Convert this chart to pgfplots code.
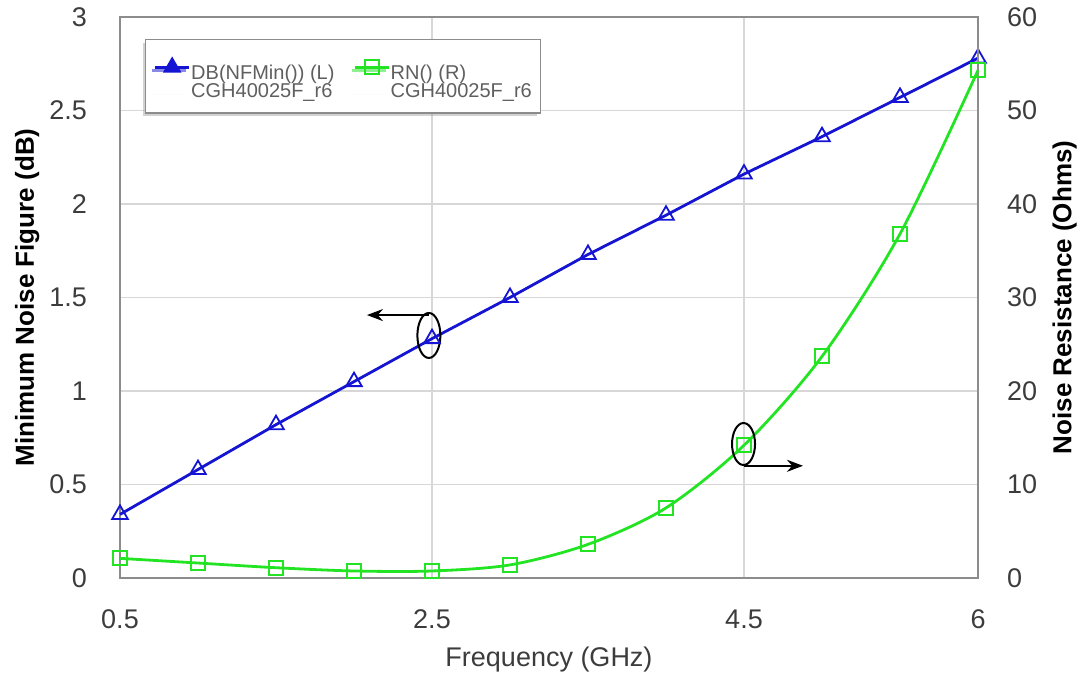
\documentclass[border=0pt]{standalone}
\usepackage{pgfplots}
\pgfplotsset{compat=1.18}
\usepackage{fontspec}
\setmainfont{Liberation Sans}
\usetikzlibrary{shadows,arrows.meta}
\definecolor{nfblue}{RGB}{20,20,210}
\definecolor{rngreen}{RGB}{35,228,35}
\definecolor{framegray}{RGB}{140,140,140}
\definecolor{gridgray}{RGB}{215,215,215}
\definecolor{txtgray}{RGB}{60,60,60}
\definecolor{leggray}{RGB}{95,95,95}

\pgfplotstableread{
f nf
0.5 0.34
1.0 0.58
1.5 0.82
2.0 1.05
2.5 1.28
3.0 1.50
3.5 1.73
4.0 1.94
4.5 2.16
5.0 2.36
5.5 2.57
6.0 2.78
}\nftable

\pgfplotstableread{
f rn
0.5 2.1
1.0 1.6
1.5 1.1
2.0 0.75
2.5 0.75
3.0 1.4
3.5 3.6
4.0 7.5
4.5 14.2
5.0 23.7
5.5 36.8
6.0 54.3
}\rntable

\pgfplotsset{
 common/.style={
  scale only axis, width=429pt, height=280.5pt,
  xmin=0.5, xmax=6,
  xtick={0.5,2.5,4.5,6},
  major tick length=0pt,
  axis line style={framegray, line width=1pt},
  tick label style={font=\fontsize{13.5}{13.5}\selectfont, text=txtgray},
  /pgf/number format/assume math mode=true,
  clip=false,
 }
}

\begin{document}
\begin{tikzpicture}
\useasboundingbox (-60pt,-50pt) rectangle (480.5pt,289pt);
\begin{axis}[common,
  ymin=0, ymax=3, ytick={0,0.5,...,3},
  xmajorgrids, ymajorgrids,
  grid style={gridgray, line width=0.6pt},
  yticklabel style={anchor=east, xshift=-13pt},
  xticklabel style={anchor=north, yshift=-12.5pt},
  xlabel={Frequency (GHz)},
  ylabel={Minimum Noise Figure (dB)},
  every axis x label/.style={at={(axis description cs:0.5,-0.146)}, anchor=center, font=\fontsize{13.5}{15}\selectfont, text=txtgray},
  every axis y label/.style={at={(axis description cs:-0.108,0.5)}, rotate=90, anchor=center, font=\fontsize{13}{15}\selectfont\bfseries},
]
\addplot[nfblue, line width=1.4pt, mark=triangle, mark size=4.5pt, mark options={line width=0.9pt, solid}] table[x=f, y=nf] {\nftable};
\draw[black, line width=1pt] (axis cs:2.48,1.297) ellipse [x radius=5.75pt, y radius=11.25pt];
\draw[black, line width=1pt, -{Stealth[length=8pt,width=6pt]}] (axis cs:2.48,1.406) -- (axis cs:2.083,1.406);
\end{axis}
\begin{axis}[common,
  ymin=0, ymax=60, ytick={0,10,...,60},
  axis x line=none, axis y line*=right,
  yticklabel style={anchor=west, xshift=11pt},
  ylabel={Noise Resistance (Ohms)},
  every axis y label/.style={at={(axis description cs:1.101,0.5)}, rotate=90, anchor=center, font=\fontsize{13}{15}\selectfont\bfseries},
  legend columns=2,
  legend style={at={(axis description cs:0.029,0.961)}, anchor=north west, draw=framegray, fill=white, line width=0.8pt, font=\fontsize{10}{11}\selectfont, text=leggray, drop shadow={shadow xshift=-1.5pt, shadow yshift=-1.5pt, fill=gray!70}, /tikz/every even column/.append style={column sep=9pt}, inner xsep=4pt, inner ysep=6pt, row sep=0pt, nodes={inner sep=0.3pt}},
  legend cell align=left,
]
\addlegendimage{nfblue, line width=1.4pt, mark=triangle*, mark size=4pt}
\addlegendentry{\rule{0pt}{13.5pt}DB(NFMin()) (L)}
\addplot[rngreen, line width=1.4pt, smooth, tension=0.5, mark=square, mark size=3.5pt, mark options={line width=0.9pt, solid}] table[x=f, y=rn] {\rntable};
\addlegendentry{\rule{0pt}{13.5pt}RN() (R)}
\addlegendimage{draw opacity=0, white}
\addlegendentry{CGH40025F\_r6}
\addlegendimage{draw opacity=0, white}
\addlegendentry{CGH40025F\_r6}
\draw[black, line width=1pt] (axis cs:4.497,14.33) ellipse [x radius=5.75pt, y radius=10.5pt];
\draw[black, line width=1pt, -{Stealth[length=8pt,width=6pt]}] (axis cs:4.497,12.0) -- (axis cs:4.878,12.0);
\end{axis}
\end{tikzpicture}
\end{document}
